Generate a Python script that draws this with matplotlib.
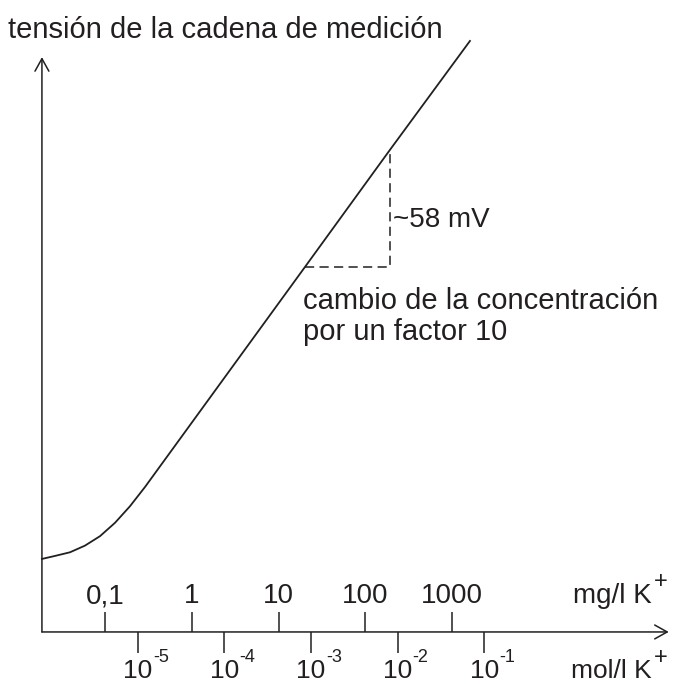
import matplotlib.pyplot as plt
from matplotlib.transforms import offset_copy

plt.rcParams['font.family'] = ['Liberation Sans', 'DejaVu Sans']

###### data ######
# x = concentracion en mg/l K+ (escala log), y = tension en mV (relativa)
conc_mg = [0.0185, 0.0262, 0.039, 0.0581, 0.0867, 0.129, 0.192, 0.287, 20.2, 193, 1620]
tension_mv = [36.2, 37.7, 39.5, 42.8, 47.5, 54.1, 62.3, 71.9, 181, 239, 293]

mg_ticks = [0.1, 1, 10, 100, 1000]
mg_labels = ['0,1', '1', '10', '100', '1000']
mol_ticks = [1e-5, 1e-4, 1e-3, 1e-2, 1e-1]
mol_exps = ['-5', '-4', '-3', '-2', '-1']
mol_to_mg = 2.37e4   # como esta dibujado (no el valor fisico)

tri_x = [20.2, 193]     # un factor 10
tri_y = [181, 239]      # ~58 mV

ink = '#231f20'

fig = plt.figure(figsize=(6.82, 6.84), dpi=100)
ax = fig.add_axes([0, 0, 1, 1])
ax.set_xscale('log')
ax.set_xlim(10 ** -2.217, 10 ** 5.658)
ax.set_ylim(-25.8, 313.3)
ax.axis('off')

x0 = conc_mg[0]
arrow = dict(arrowstyle='->,head_length=0.9,head_width=0.5', color=ink, lw=1.1,
             shrinkA=0, shrinkB=0, mutation_scale=10)
ax.annotate('', xy=(x0, 285), xytext=(x0, 0), arrowprops=arrow)
ax.annotate('', xy=(3.2e5, 0), xytext=(x0, 0), arrowprops=arrow)

# curva
ax.plot(conc_mg, tension_mv, color=ink, lw=1.3, solid_joinstyle='round')

# triangulo
ax.plot([tri_x[0], tri_x[1], tri_x[1]], [tri_y[0], tri_y[0], tri_y[1]],
        color=ink, lw=1.1, ls=(0, (6, 3.5)))

# ticks
mol_pos = [m * mol_to_mg for m in mol_ticks]
ax.vlines(mg_ticks, 0, 10, color=ink, lw=1.1)
ax.vlines(mol_pos, -10.3, 0, color=ink, lw=1.1)

for t, lab in zip(mg_ticks, mg_labels):
    ax.text(t, 14.2, lab, ha='center', va='baseline', fontsize=20, color=ink)

exp_tr = offset_copy(ax.transData, fig=fig, x=15, y=16, units='dots')
for p, e in zip(mol_pos, mol_exps):
    ax.text(p, -22.8, '10', ha='center', va='baseline', fontsize=19, color=ink)
    ax.text(p, -22.8, e, ha='left', va='baseline', fontsize=13, color=ink, transform=exp_tr)

# textos en pixeles de la figura
def px(x, y):
    return x / 682, 1 - y / 684

fig.text(*px(8, 38), 'tensión de la cadena de medición', fontsize=21, color=ink,
         ha='left', va='baseline')
fig.text(*px(393, 227), '~58 mV', fontsize=20, color=ink, ha='left', va='baseline')
fig.text(*px(303, 309), 'cambio de la concentración', fontsize=21, color=ink,
         ha='left', va='baseline')
fig.text(*px(303, 340), 'por un factor 10', fontsize=21, color=ink,
         ha='left', va='baseline')
fig.text(*px(652, 603), 'mg/l K', fontsize=20, color=ink, ha='right', va='baseline')
fig.text(*px(654, 588), '+', fontsize=17, color=ink, ha='left', va='baseline')
fig.text(*px(652, 678), 'mol/l K', fontsize=19, color=ink, ha='right', va='baseline')
fig.text(*px(654, 664), '+', fontsize=17, color=ink, ha='left', va='baseline')

fig.savefig('out.png', dpi=100)
